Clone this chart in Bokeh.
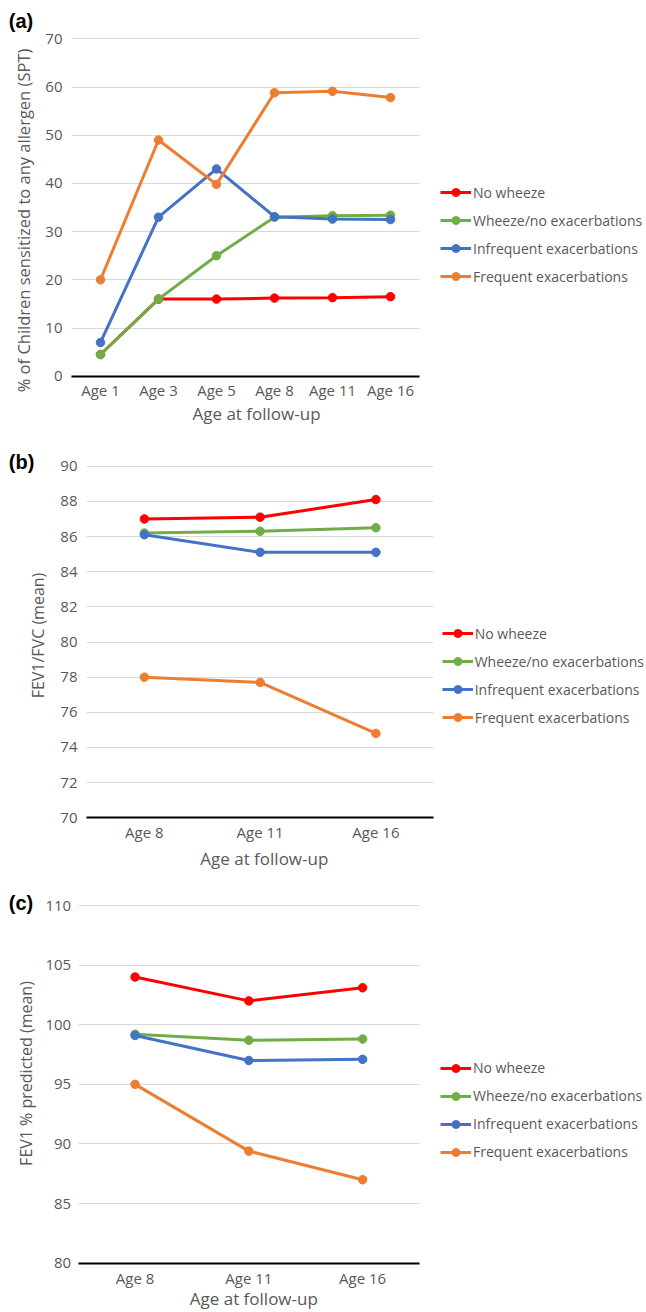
import math
from bokeh.plotting import figure
from bokeh.models import Range1d, FixedTicker, Legend, LegendItem, Label
from bokeh.embed import file_html
from bokeh.resources import INLINE

# ---------------- data ----------------
series_names = ["No wheeze", "Wheeze/no exacerbations",
                "Infrequent exacerbations", "Frequent exacerbations"]
series_colors = ["#FF0000", "#70AD47", "#4472C4", "#ED7D31"]

ages_a = ["Age 1", "Age 3", "Age 5", "Age 8", "Age 11", "Age 16"]
spt_no_wheeze = [4.5, 16.0, 16.0, 16.2, 16.3, 16.5]
spt_wheeze = [4.5, 16.0, 25.0, 33.0, 33.3, 33.4]
spt_infrequent = [7.0, 33.0, 43.0, 33.1, 32.6, 32.5]
spt_frequent = [20.0, 49.0, 39.8, 58.8, 59.1, 57.8]
ticks_a = [0, 10, 20, 30, 40, 50, 60, 70]

ages_bc = ["Age 8", "Age 11", "Age 16"]
ratio_no_wheeze = [87.0, 87.1, 88.1]
ratio_wheeze = [86.2, 86.3, 86.5]
ratio_infrequent = [86.1, 85.1, 85.1]
ratio_frequent = [78.0, 77.7, 74.8]
ticks_b = [70, 72, 74, 76, 78, 80, 82, 84, 86, 88, 90]

fev_no_wheeze = [104.0, 102.0, 103.1]
fev_wheeze = [99.2, 98.7, 98.8]
fev_infrequent = [99.1, 97.0, 97.1]
fev_frequent = [95.0, 89.4, 87.0]
ticks_c = [80, 85, 90, 95, 100, 105, 110]

x_title = "Age at follow-up"

FONT = "Open Sans"
GREY = "#595959"
FIG_W = 646


def make_panel(cats, series, ticks, ylabel, tag, g):
    # g holds layout geometry in page pixels
    n = len(cats)
    pos = [i + 0.5 for i in range(n)]                 # category centres
    top, H, L = g["top"], g["h"], g["l"]
    band = g["plot_w"] / n
    y0, y1 = ticks[0], ticks[-1]
    pxu = (g["ybot"] - g["ytop"]) / (y1 - y0)

    def dx(sx):
        return (sx - L) / band

    def dy(sy):
        return y0 + (g["ybot"] - sy) / pxu

    p = figure(width=FIG_W, height=H,
               x_range=Range1d(dx(0), dx(FIG_W)),
               y_range=Range1d(dy(top + H), dy(top)),
               output_backend="svg", toolbar_location=None,
               min_border=0, min_border_left=0, min_border_right=0,
               min_border_top=0, min_border_bottom=0)
    p.outline_line_color = None
    p.xgrid.grid_line_color = None
    grid = p.ygrid[0]
    if "cross_bounds" in grid.properties():
        grid.cross_bounds = (0, n)
        grid.grid_line_color = "#D9D9D9"
        grid.grid_line_width = 1
    else:
        grid.visible = False
        p.segment(x0=0, x1=n, y0=ticks[1:], y1=ticks[1:],
                  line_color="#D9D9D9", line_width=1, level="underlay")

    xa, ya = p.xaxis[0], p.yaxis[0]
    ya.ticker = FixedTicker(ticks=ticks)
    ya.bounds = (y0, y1)
    ya.fixed_location = 0
    xa.ticker = FixedTicker(ticks=pos)
    xa.major_label_overrides = {x: c for x, c in zip(pos, cats)}
    xa.bounds = (0, n)
    xa.fixed_location = y0

    for ax in (xa, ya):
        ax.major_tick_line_color = None
        ax.minor_tick_line_color = None
        ax.major_tick_out = 0
        ax.major_tick_in = 0
        ax.minor_tick_out = 0
        ax.minor_tick_in = 0
        ax.major_label_text_font = FONT
        ax.major_label_text_font_size = "15px"
        ax.major_label_text_color = GREY
    ya.axis_line_color = None
    ya.major_label_standoff = g["ys"]
    xa.axis_line_color = "black"
    xa.axis_line_width = 2
    xa.major_label_standoff = g["xs"]

    items = []
    for name, color, vals in zip(series_names, series_colors, series):
        ln = p.line(pos, vals, line_color=color, line_width=3)
        sc = p.scatter(pos, vals, marker="circle", size=8.5,
                       fill_color=color, line_color=color)
        items.append(LegendItem(label=name, renderers=[ln, sc]))

    leg_x, leg_bottom = g["leg"]
    legend = Legend(items=items, location=(leg_x, top + H - leg_bottom),
                    orientation="vertical",
                    glyph_width=31, glyph_height=20, label_height=20,
                    label_standoff=2, spacing=8, padding=0, margin=0,
                    border_line_color=None, background_fill_alpha=0,
                    label_text_font=FONT, label_text_font_size="14px",
                    label_text_color=GREY)
    p.add_layout(legend)

    # panel tag
    tx, ty = g["tag"]
    p.add_layout(Label(x=dx(tx), y=dy(ty), text=tag, text_font="Liberation Sans",
                       text_font_style="bold", text_font_size="20px",
                       text_color="black", text_align="left", text_baseline="middle"))
    # x-axis title
    xt_x, xt_y = g["xt"]
    p.add_layout(Label(x=dx(xt_x), y=dy(xt_y), text=x_title, text_font=FONT,
                       text_font_size="17px", text_color=GREY,
                       text_align="center", text_baseline="middle"))
    # y-axis title
    yt_x, yt_y = g["yt"]
    p.add_layout(Label(x=dx(yt_x), y=dy(yt_y), text=ylabel, text_font=FONT,
                       text_font_size=g["yfs"], text_color=GREY,
                       text_align="center", text_baseline="middle", angle=math.pi / 2))
    return p


pa = make_panel(ages_a, [spt_no_wheeze, spt_wheeze, spt_infrequent, spt_frequent],
                ticks_a, "% of Children sensitized to any allergen (SPT)", "(a)",
                dict(top=0, h=427, l=71, plot_w=348, ytop=38.3, ybot=375.7,
                     ys=9, xs=4, yfs="16.5px",
                     leg=(440, 286), tag=(8.3, 20), xt=(256, 413.3), yt=(22.5, 220)))
pb = make_panel(ages_bc, [ratio_no_wheeze, ratio_wheeze, ratio_infrequent, ratio_frequent],
                ticks_b, "FEV1/FVC (mean)", "(b)",
                dict(top=427, h=445, l=86, plot_w=347.3, ytop=465.7, ybot=817.3,
                     ys=9, xs=4, yfs="16px",
                     leg=(441.7, 727.3), tag=(8.3, 461), xt=(263.8, 858.3), yt=(37.5, 635)))
pc = make_panel(ages_bc, [fev_no_wheeze, fev_wheeze, fev_infrequent, fev_frequent],
                ticks_c, "FEV1 % predicted (mean)", "(c)",
                dict(top=872, h=440, l=77.7, plot_w=341.3, ytop=905, ybot=1262.7,
                     ys=7, xs=5, yfs="16px",
                     leg=(440, 1161.7), tag=(8.3, 902), xt=(253.3, 1298), yt=(25, 1073)))

open("out.html", "w").write(file_html([pa, pb, pc], INLINE))
